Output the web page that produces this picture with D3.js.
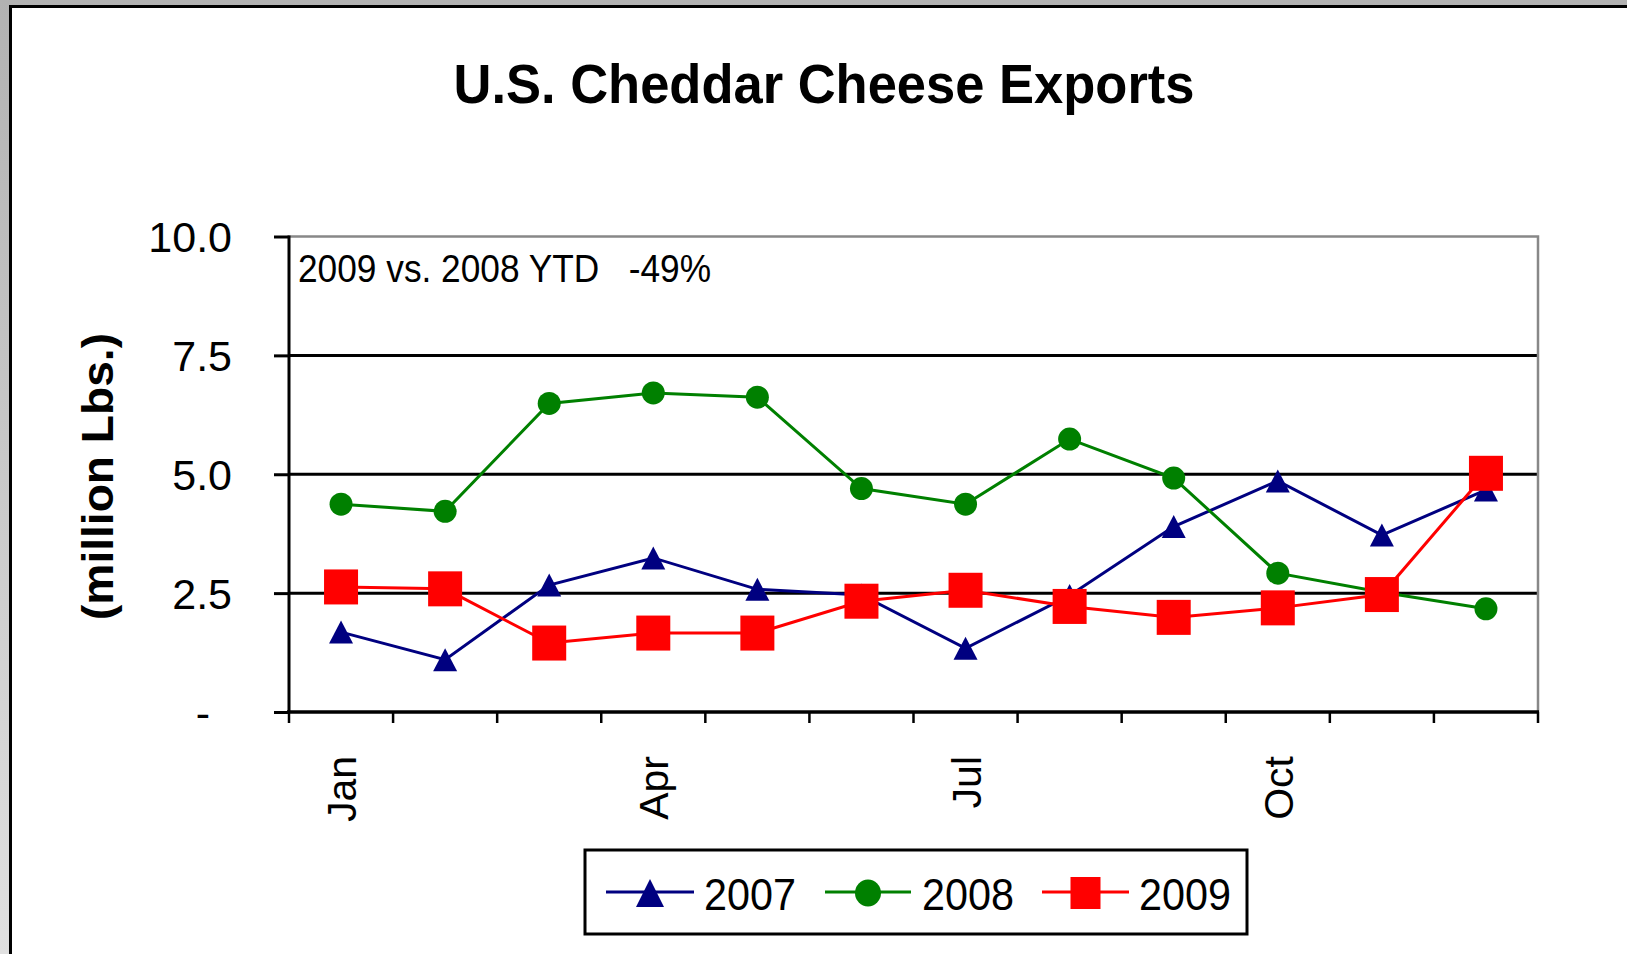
<!DOCTYPE html>
<html>
<head>
<meta charset="utf-8">
<script src="https://cdn.jsdelivr.net/npm/d3@7"></script>
<style>
  html, body { margin: 0; padding: 0; background: #fff; }
  svg { display: block; }
  text { font-family: "Liberation Sans", Arial, sans-serif; fill: #000; }
</style>
</head>
<body>
<svg id="chart" width="1627" height="954"></svg>
<script>
// ---------- data ----------
const months = ["Jan","Feb","Mar","Apr","May","Jun","Jul","Aug","Sep","Oct","Nov","Dec"];
const monthLabels = ["Jan","","","Apr","","","Jul","","","Oct","",""];
const s2007 = [1.68, 1.10, 2.67, 3.24, 2.58, 2.46, 1.34, 2.45, 3.90, 4.86, 3.72, 4.67];
const s2008 = [4.37, 4.22, 6.49, 6.71, 6.62, 4.70, 4.37, 5.74, 4.92, 2.92, 2.52, 2.17];
const s2009 = [2.63, 2.59, 1.45, 1.66, 1.66, 2.33, 2.56, 2.22, 1.99, 2.19, 2.47, 5.02];
const seriesNames = ["2007", "2008", "2009"];
const yTicks = [0, 2.5, 5, 7.5, 10];
const titleText = "U.S. Cheddar Cheese Exports";
const yAxisTitle = "(million Lbs.)";
const noteText = "2009 vs. 2008 YTD\u00a0\u00a0\u00a0-49%";

// ---------- setup ----------
const svg = d3.select("#chart");
const W = 1627, H = 954;
const plot = { left: 289, right: 1538, top: 236.5, bottom: 712 };

const defs = svg.append("defs");
const grad = defs.append("linearGradient").attr("id", "bg").attr("x1", 0).attr("y1", 0).attr("x2", 0).attr("y2", 1);
grad.append("stop").attr("offset", "0%").attr("stop-color", "#b2b2b2");
grad.append("stop").attr("offset", "100%").attr("stop-color", "#e0e0e0");

svg.append("rect").attr("x", 0).attr("y", 0).attr("width", W).attr("height", H).attr("fill", "url(#bg)");
svg.append("rect").attr("x", 10.5).attr("y", 6.5).attr("width", W + 50).attr("height", H + 50)
  .attr("fill", "#fff").attr("stroke", "#000").attr("stroke-width", 3);

const x = d3.scaleBand().domain(months).range([plot.left, plot.right]).padding(0);
const y = d3.scaleLinear().domain([0, 10]).range([plot.bottom, plot.top]);
const cx = m => x(m) + x.bandwidth() / 2;

// title
svg.append("text").attr("x", 824).attr("y", 102.5).attr("text-anchor", "middle")
  .attr("font-size", 56).attr("font-weight", "bold")
  .attr("textLength", 741).attr("lengthAdjust", "spacingAndGlyphs")
  .text(titleText);

// gridlines (2.5, 5, 7.5)
svg.append("g").selectAll("line").data([2.5, 5, 7.5]).join("line")
  .attr("x1", plot.left).attr("x2", plot.right)
  .attr("y1", d => y(d)).attr("y2", d => y(d))
  .attr("stroke", "#000").attr("stroke-width", 3);

// plot border top/right (gray)
svg.append("path")
  .attr("d", `M${plot.left},${y(10)}H${plot.right}V${plot.bottom}`)
  .attr("fill", "none").attr("stroke", "#888").attr("stroke-width", 2.5);

// y axis
const yAxis = svg.append("g").attr("transform", `translate(${plot.left},0)`)
  .call(d3.axisLeft(y).tickValues(yTicks).tickSize(15).tickFormat(d => d === 0 ? "-" : d3.format(".1f")(d)));
yAxis.select(".domain").remove();
yAxis.selectAll(".tick line").attr("stroke", "#000").attr("stroke-width", 3);
yAxis.selectAll(".tick text")
  .attr("x", d => d === 0 ? -79 : -57).attr("dy", "0.36em")
  .attr("font-size", 43).attr("font-family", "Liberation Sans, Arial, sans-serif").attr("fill", "#000");
svg.append("line").attr("x1", plot.left).attr("x2", plot.left).attr("y1", plot.top - 1).attr("y2", plot.bottom)
  .attr("stroke", "#000").attr("stroke-width", 3);

// x axis
const xAxis = svg.append("g").attr("transform", `translate(0,${plot.bottom})`)
  .call(d3.axisBottom(x).tickSize(0).tickFormat((d, i) => monthLabels[i]));
xAxis.select(".domain").remove();
xAxis.selectAll(".tick text")
  .attr("transform", "rotate(-90)").attr("text-anchor", "end")
  .attr("x", -44).attr("y", 15).attr("dy", 0)
  .attr("font-size", 41).attr("font-family", "Liberation Sans, Arial, sans-serif").attr("fill", "#000");
const bounds = months.map(m => x(m)).concat([x.range()[1]]);
svg.append("g").selectAll("line").data(bounds).join("line")
  .attr("x1", d => d).attr("x2", d => d).attr("y1", plot.bottom).attr("y2", plot.bottom + 11)
  .attr("stroke", "#000").attr("stroke-width", 2.5);
svg.append("line").attr("x1", plot.left - 2).attr("x2", plot.right + 1).attr("y1", plot.bottom).attr("y2", plot.bottom)
  .attr("stroke", "#000").attr("stroke-width", 3.5);

// y axis title
svg.append("text").attr("transform", "translate(113,476.5) rotate(-90)")
  .attr("text-anchor", "middle").attr("font-size", 45).attr("font-weight", "bold")
  .attr("textLength", 287).attr("lengthAdjust", "spacingAndGlyphs")
  .text(yAxisTitle);

// note
svg.append("text").attr("x", 298).attr("y", 282).attr("font-size", 39)
  .attr("textLength", 413).attr("lengthAdjust", "spacingAndGlyphs")
  .text(noteText);

// ---------- series ----------
const colors = { "2007": "#000080", "2008": "#008000", "2009": "#ff0000" };
const dataBy = { "2007": s2007, "2008": s2008, "2009": s2009 };
const line = d3.line().x(d => cx(d.m)).y(d => y(d.v));

function drawMarker(g, name, px, py, w, h) {
  const c = colors[name];
  if (name === "2007") {
    g.append("path").attr("d", `M${px},${py - h / 2}L${px + w / 2},${py + h / 2}L${px - w / 2},${py + h / 2}Z`).attr("fill", c);
  } else if (name === "2008") {
    g.append("ellipse").attr("cx", px).attr("cy", py).attr("rx", w / 2).attr("ry", h / 2).attr("fill", c);
  } else {
    g.append("rect").attr("x", px - w / 2).attr("y", py - h / 2).attr("width", w).attr("height", h).attr("fill", c);
  }
}
const markerSize = { "2007": [24, 23], "2008": [23, 23], "2009": [34, 35] };

seriesNames.forEach(name => {
  const pts = months.map((m, i) => ({ m, v: dataBy[name][i] }));
  const g = svg.append("g");
  g.append("path").attr("d", line(pts)).attr("fill", "none").attr("stroke", colors[name]).attr("stroke-width", 3);
  pts.forEach(p => drawMarker(g, name, cx(p.m), y(p.v), markerSize[name][0], markerSize[name][1]));
});

// ---------- legend ----------
const lg = svg.append("g");
lg.append("rect").attr("x", 585).attr("y", 850).attr("width", 662).attr("height", 84)
  .attr("fill", "#fff").attr("stroke", "#000").attr("stroke-width", 3);
const legendItems = [
  { name: "2007", x0: 606, x1: 694, tx: 704, w: 28, h: 28 },
  { name: "2008", x0: 825, x1: 911, tx: 922, w: 26, h: 27 },
  { name: "2009", x0: 1042, x1: 1129, tx: 1139, w: 30, h: 32 }
];
legendItems.forEach(it => {
  lg.append("line").attr("x1", it.x0).attr("x2", it.x1).attr("y1", 892).attr("y2", 892)
    .attr("stroke", colors[it.name]).attr("stroke-width", 3);
  drawMarker(lg, it.name, (it.x0 + it.x1) / 2, 893, it.w, it.h);
  lg.append("text").attr("x", it.tx).attr("y", 910).attr("font-size", 44)
    .attr("textLength", 92).attr("lengthAdjust", "spacingAndGlyphs").text(it.name);
});
</script>
</body>
</html>
